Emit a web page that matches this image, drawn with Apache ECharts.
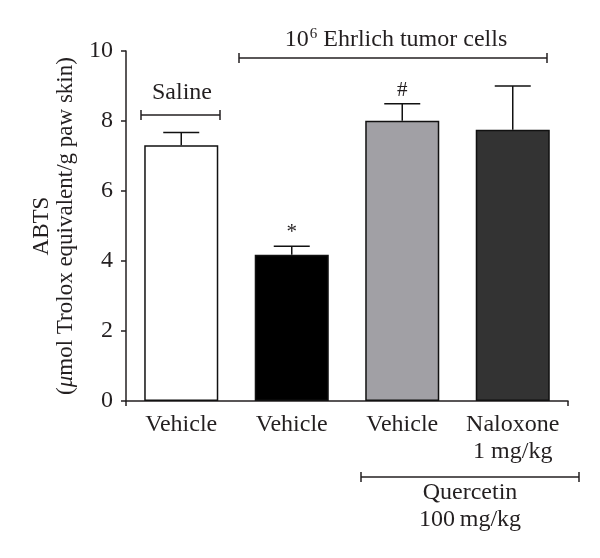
<!DOCTYPE html>
<html>
<head>
<meta charset="utf-8">
<script src="https://cdn.jsdelivr.net/npm/echarts@6/dist/echarts.min.js"></script>
<style>
html,body{margin:0;padding:0;background:#fff;}
#main{width:600px;height:558px;}
</style>
</head>
<body>
<div id="main"></div>
<script>
const categories = ['Vehicle', 'Vehicle', 'Vehicle', 'Naloxone\n1 mg/kg'];
const means = [7.31, 4.18, 8.01, 7.75];
const errUpper = [7.67, 4.42, 8.49, 9.0];
const sigMarks = ['', '*', '#', ''];
const barColors = ['#ffffff', '#000000', '#a1a0a5', '#333333'];
const yTicks = [0, 2, 4, 6, 8, 10];

const FONT = '"Liberation Serif", "DejaVu Serif", serif';
const INK = '#231f20';
const FS = 24;

const chart = echarts.init(document.getElementById('main'), null, {renderer: 'canvas'});

const option = {
  backgroundColor: '#ffffff',
  animation: false,
  grid: {left: 126, right: 32, top: 51, bottom: 157, containLabel: false},
  xAxis: {
    type: 'category',
    data: categories,
    boundaryGap: true,
    axisLine: {lineStyle: {color: INK, width: 1.5}},
    axisTick: {show: true, length: 5, lineStyle: {color: INK, width: 1.5},
      interval: function (idx) { return idx === 2; }},
    axisLabel: {color: INK, fontFamily: FONT, fontSize: FS, lineHeight: 27, margin: 10, interval: 0}
  },
  yAxis: {
    type: 'value',
    min: yTicks[0],
    max: yTicks[yTicks.length - 1],
    interval: 2,
    splitLine: {show: false},
    axisLine: {show: true, lineStyle: {color: INK, width: 1.5}},
    axisTick: {show: true, length: 5, lineStyle: {color: INK, width: 1.5}},
    axisLabel: {color: INK, fontFamily: FONT, fontSize: FS, margin: 13}
  },
  series: [
    {
      type: 'bar',
      barWidth: '67%',
      data: means.map((v, i) => ({
        value: v,
        itemStyle: {color: barColors[i], borderColor: '#111', borderWidth: 1.5}
      })),
      z: 2
    },
    {
      type: 'custom',
      z: 3,
      data: means.map((v, i) => [i, v, errUpper[i]]),
      encode: {x: 0, y: [1, 2]},
      renderItem: function (params, api) {
        const idx = api.value(0);
        const p0 = api.coord([idx, api.value(1)]);
        const p1 = api.coord([idx, api.value(2)]);
        const hw = 18;
        const style = {stroke: '#111', lineWidth: 1.5};
        const children = [
          {type: 'line', shape: {x1: p0[0], y1: p0[1], x2: p1[0], y2: p1[1]}, style: style},
          {type: 'line', shape: {x1: p0[0] - hw, y1: p1[1], x2: p0[0] + hw, y2: p1[1]}, style: style}
        ];
        const mark = sigMarks[params.dataIndex];
        if (mark) {
          children.push({type: 'text', x: p0[0], y: p1[1] - 3,
            style: {text: mark, fontFamily: FONT, fontSize: 21, fill: INK, align: 'center', verticalAlign: 'bottom'}});
        }
        return {type: 'group', children: children};
      }
    }
  ],
  graphic: [
    // Y axis title
    {type: 'text', x: 42, y: 226, rotation: Math.PI / 2,
      style: {text: 'ABTS', fontFamily: FONT, fontSize: 23, fill: INK, align: 'center', verticalAlign: 'middle'}},
    {type: 'text', x: 66, y: 226, rotation: Math.PI / 2,
      style: {
        rich: {
          n: {fontFamily: FONT, fontSize: 23, fill: INK},
          i: {fontFamily: FONT, fontSize: 23, fill: INK, fontStyle: 'italic'}
        },
        text: '{n|(}{i|\u03bc}{n|mol Trolox equivalent/g paw skin)}',
        align: 'center', verticalAlign: 'middle'}},
    // Saline bracket
    {type: 'line', shape: {x1: 141, y1: 115, x2: 220, y2: 115}, style: {stroke: INK, lineWidth: 1.5}},
    {type: 'line', shape: {x1: 141, y1: 110, x2: 141, y2: 120}, style: {stroke: INK, lineWidth: 1.5}},
    {type: 'line', shape: {x1: 220, y1: 110, x2: 220, y2: 120}, style: {stroke: INK, lineWidth: 1.5}},
    {type: 'text', x: 182, y: 93,
      style: {text: 'Saline', fontFamily: FONT, fontSize: FS, fill: INK, align: 'center', verticalAlign: 'middle'}},
    // Ehrlich bracket
    {type: 'line', shape: {x1: 239, y1: 58, x2: 547, y2: 58}, style: {stroke: INK, lineWidth: 1.5}},
    {type: 'line', shape: {x1: 239, y1: 53, x2: 239, y2: 63}, style: {stroke: INK, lineWidth: 1.5}},
    {type: 'line', shape: {x1: 547, y1: 53, x2: 547, y2: 63}, style: {stroke: INK, lineWidth: 1.5}},
    {type: 'text', x: 396, y: 40,
      style: {rich: {a: {fontFamily: FONT, fontSize: FS, fill: INK}, s: {fontFamily: FONT, fontSize: 15, fill: INK, verticalAlign: 'top', padding: [0,0,11,1]}},
        text: '{a|10}{s|6}{a| Ehrlich tumor cells}', align: 'center', verticalAlign: 'middle'}},
    // Quercetin bracket
    {type: 'line', shape: {x1: 361, y1: 477, x2: 579, y2: 477}, style: {stroke: INK, lineWidth: 1.5}},
    {type: 'line', shape: {x1: 361, y1: 472, x2: 361, y2: 482}, style: {stroke: INK, lineWidth: 1.5}},
    {type: 'line', shape: {x1: 579, y1: 472, x2: 579, y2: 482}, style: {stroke: INK, lineWidth: 1.5}},
    {type: 'text', x: 470, y: 493,
      style: {text: 'Quercetin', fontFamily: FONT, fontSize: FS, fill: INK, align: 'center', verticalAlign: 'middle'}},
    {type: 'text', x: 470, y: 520,
      style: {text: '100\u2009mg/kg', fontFamily: FONT, fontSize: FS, fill: INK, align: 'center', verticalAlign: 'middle'}}
  ]
};
chart.setOption(option);
</script>
</body>
</html>
